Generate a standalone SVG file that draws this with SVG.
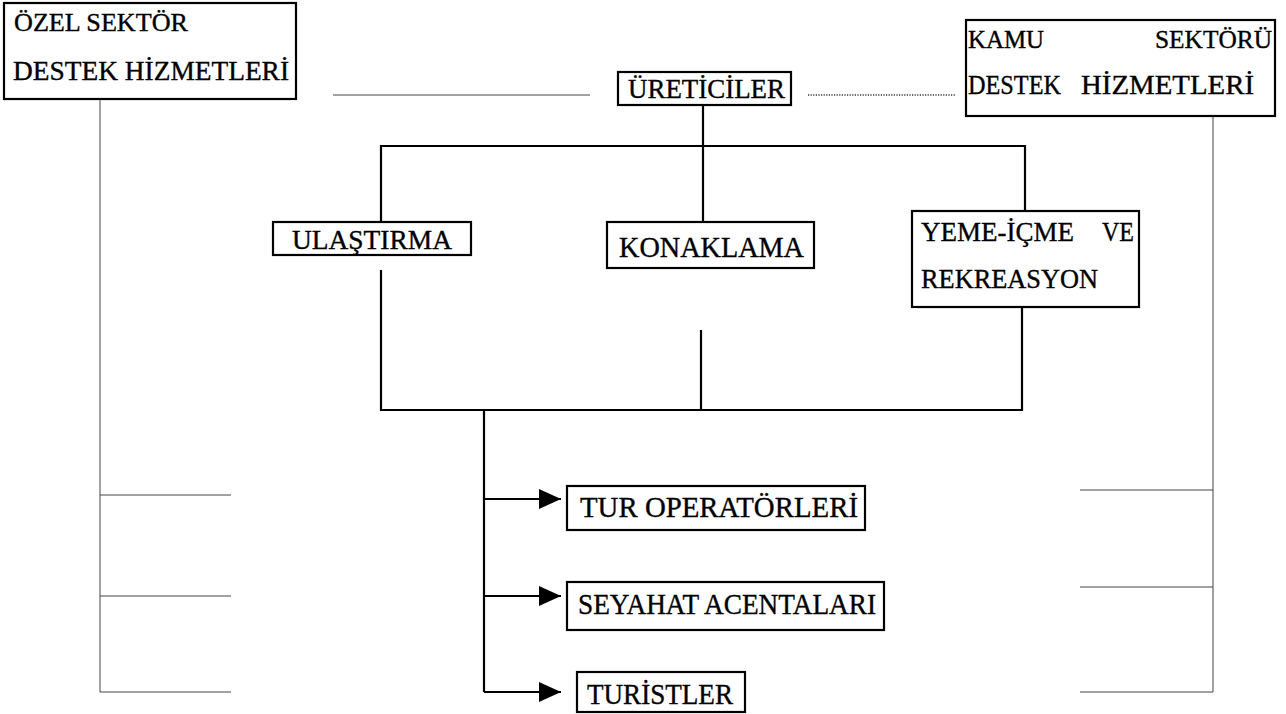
<svg xmlns="http://www.w3.org/2000/svg" width="1286" height="714" viewBox="0 0 1286 714">
  <defs>
    <style>
      .box { fill: #fff; stroke: #000; stroke-width: 2.2; }
      .lbl { font-family: "Liberation Serif", "Times New Roman", serif; font-size: 27px; fill: #000; stroke: #000; stroke-width: 0.35; }
      .sm { font-size: 25px; }
      .lg { font-size: 29px; }
      .thick { stroke: #000; stroke-width: 2.2; fill: none; }
      .thin { stroke: #444; stroke-width: 1; fill: none; }
      .dot { stroke: #333; stroke-width: 1.4; stroke-dasharray: 1.2 1.4; fill: none; }
    </style>
    <marker id="arrow" viewBox="0 0 22 20" refX="22" refY="10" markerWidth="22" markerHeight="20" markerUnits="userSpaceOnUse" orient="auto">
      <path d="M0,0 L22,10 L0,20 Z" fill="#000"/>
    </marker>
  </defs>

  <rect width="1286" height="714" fill="#fff"/>

  <!-- connectors -->
  <g id="connectors">
    <!-- side support lines -->
    <line class="thin" x1="333" y1="95" x2="590" y2="95"/>
    <line class="dot" x1="808" y1="95" x2="955" y2="95"/>
    <line class="thin" x1="100" y1="100" x2="100" y2="692"/>
    <line class="thin" x1="100" y1="495" x2="231" y2="495"/>
    <line class="thin" x1="100" y1="596" x2="231" y2="596"/>
    <line class="thin" x1="100" y1="692" x2="231" y2="692"/>
    <line class="thin" x1="1213" y1="117" x2="1213" y2="692"/>
    <line class="thin" x1="1080" y1="490" x2="1213" y2="490"/>
    <line class="thin" x1="1080" y1="587" x2="1213" y2="587"/>
    <line class="thin" x1="1080" y1="692" x2="1213" y2="692"/>
    <!-- producers to sub-sectors -->
    <line class="thick" x1="703" y1="104" x2="703" y2="222"/>
    <polyline class="thick" points="381,222 381,146 1025,146 1025,211"/>
    <!-- sub-sectors to distribution trunk -->
    <polyline class="thick" points="381,270 381,410 1022,410 1022,308"/>
    <line class="thick" x1="701" y1="330" x2="701" y2="410"/>
    <line class="thick" x1="484" y1="410" x2="484" y2="692"/>
    <line class="thick" x1="484" y1="499" x2="561" y2="499" marker-end="url(#arrow)"/>
    <line class="thick" x1="484" y1="596" x2="561" y2="596" marker-end="url(#arrow)"/>
    <line class="thick" x1="484" y1="692" x2="561" y2="692" marker-end="url(#arrow)"/>
  </g>

  <g id="ozel-sektor">
    <rect class="box" x="4" y="3" width="292" height="96"/>
    <text class="lbl sm" x="14" y="31" textLength="174" lengthAdjust="spacingAndGlyphs">ÖZEL SEKTÖR</text>
    <text class="lbl" x="13" y="80" textLength="276" lengthAdjust="spacingAndGlyphs">DESTEK HİZMETLERİ</text>
  </g>

  <g id="ureticiler">
    <rect class="box" x="618" y="72" width="173" height="33"/>
    <text class="lbl" x="628" y="98" textLength="157" lengthAdjust="spacingAndGlyphs">ÜRETİCİLER</text>
  </g>

  <g id="kamu-sektoru">
    <rect class="box" x="966" y="20" width="309" height="96"/>
    <text class="lbl sm" x="968" y="48" textLength="76" lengthAdjust="spacingAndGlyphs">KAMU</text>
    <text class="lbl sm" x="1155" y="48" textLength="117" lengthAdjust="spacingAndGlyphs">SEKTÖRÜ</text>
    <text class="lbl" x="968" y="94" textLength="93" lengthAdjust="spacingAndGlyphs">DESTEK</text>
    <text class="lbl" x="1081" y="94" textLength="173" lengthAdjust="spacingAndGlyphs">HİZMETLERİ</text>
  </g>

  <g id="ulastirma">
    <rect class="box" x="273" y="222" width="198" height="33"/>
    <text class="lbl" x="292" y="249" textLength="160" lengthAdjust="spacingAndGlyphs">ULAŞTIRMA</text>
  </g>

  <g id="konaklama">
    <rect class="box" x="607" y="222" width="207" height="46"/>
    <text class="lbl lg" x="619" y="257" textLength="185" lengthAdjust="spacingAndGlyphs">KONAKLAMA</text>
  </g>

  <g id="yeme-icme">
    <rect class="box" x="912" y="211" width="227" height="96"/>
    <text class="lbl" x="921" y="241" textLength="153" lengthAdjust="spacingAndGlyphs">YEME-İÇME</text>
    <text class="lbl" x="1102" y="241" textLength="32" lengthAdjust="spacingAndGlyphs">VE</text>
    <text class="lbl" x="921" y="288" textLength="177" lengthAdjust="spacingAndGlyphs">REKREASYON</text>
  </g>

  <g id="tur-operatorleri">
    <rect class="box" x="567" y="486" width="298" height="44"/>
    <text class="lbl lg" x="580" y="517" textLength="278" lengthAdjust="spacingAndGlyphs">TUR OPERATÖRLERİ</text>
  </g>

  <g id="seyahat-acentalari">
    <rect class="box" x="567" y="582" width="317" height="48"/>
    <text class="lbl lg" x="578" y="614" textLength="298" lengthAdjust="spacingAndGlyphs">SEYAHAT ACENTALARI</text>
  </g>

  <g id="turistler">
    <rect class="box" x="577" y="672" width="168" height="40"/>
    <text class="lbl lg" x="587" y="704" textLength="146" lengthAdjust="spacingAndGlyphs">TURİSTLER</text>
  </g>
</svg>
